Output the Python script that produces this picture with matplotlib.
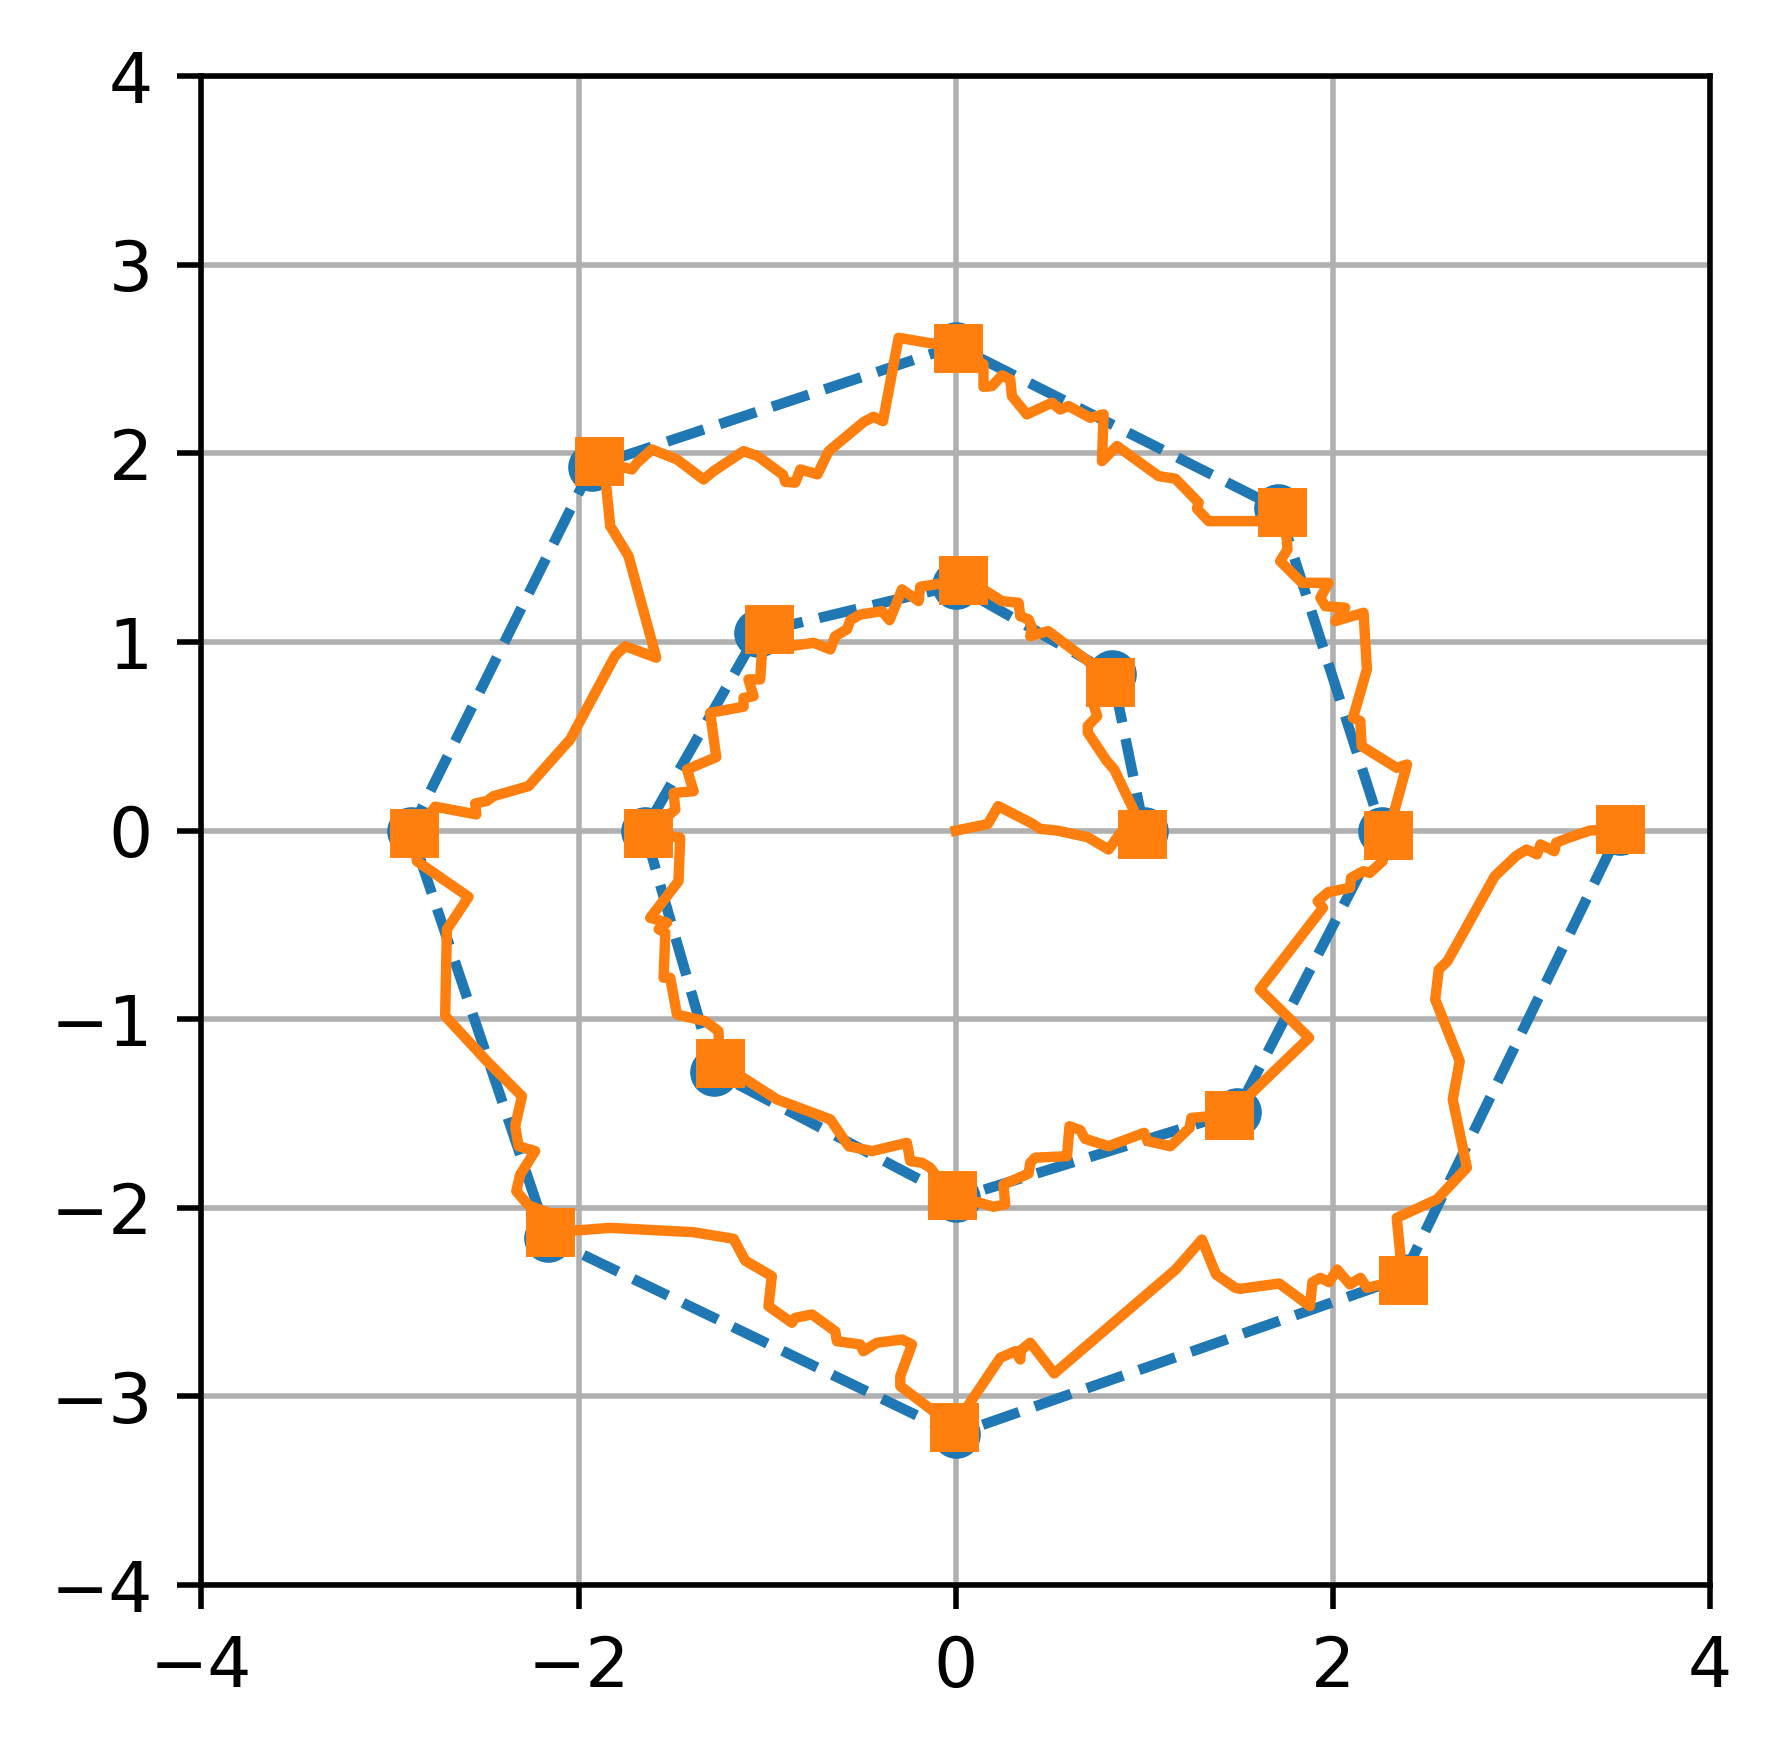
import numpy as np
import matplotlib
matplotlib.use("Agg")
import matplotlib.pyplot as plt


# ----------------------------------------------------------
# data
# ----------------------------------------------------------
# ideal spiral points (blue, dashed)
spiral_x = [1.0, 0.83, 0.0, -1.05, -1.65, -1.28, 0.0, 1.49, 2.26,
            1.71, 0.0, -1.93, -2.89, -2.16, 0.0, 2.37, 3.52]
spiral_y = [0.0, 0.83, 1.30, 1.05, 0.0, -1.28, -1.95, -1.49, 0.0,
            1.71, 2.57, 1.93, 0.0, -2.16, -3.20, -2.37, 0.0]

# measured waypoints (orange squares)
mark_x = [0.99, 0.82, 0.04, -0.99, -1.63, -1.25, -0.02, 1.45, 2.29,
          1.73, 0.01, -1.89, -2.87, -2.15, -0.01, 2.37, 3.52]
mark_y = [-0.02, 0.79, 1.33, 1.07, -0.01, -1.23, -1.93, -1.505, -0.025,
          1.69, 2.56, 1.96, -0.01, -2.13, -3.16, -2.38, 0.01]

# noisy trajectory (orange line)
walk_x = [0.0, 0.17, 0.225, 0.41, 0.445, 0.54, 0.70, 0.81, 0.875, 0.99,
          0.95, 0.84, 0.80, 0.70, 0.70, 0.75, 0.73, 0.82,
          0.70, 0.49, 0.395, 0.404, 0.386, 0.342, 0.333, 0.245, 0.147, 0.04,
          -0.188, -0.197, -0.285, -0.351, -0.391, -0.506, -0.559, -0.577,
          -0.639, -0.665, -0.754, -0.877, -0.99,
          -1.028, -1.037, -1.099, -1.072, -1.125, -1.125, -1.302, -1.27,
          -1.425, -1.39, -1.496, -1.487, -1.63,
          -1.461, -1.47, -1.62, -1.531, -1.575, -1.54, -1.549, -1.514,
          -1.478, -1.328, -1.258, -1.25,
          -0.948, -0.665, -0.568, -0.444, -0.259, -0.241, -0.179, -0.135,
          -0.109, -0.02,
          0.2, 0.262, 0.253, 0.386, 0.395, 0.421, 0.59, 0.603, 0.66, 0.686,
          0.81, 0.999, 1.017, 1.138, 1.24, 1.249, 1.45,
          1.873, 1.612, 1.947, 1.919, 1.975, 2.09, 2.096, 2.161, 2.195,
          2.263, 2.29,
          2.393, 2.338, 2.152, 2.145, 2.106, 2.18, 2.162, 2.012, 2.065,
          1.959, 1.933, 1.977, 1.836, 1.72, 1.759, 1.752, 1.73,
          1.597, 1.341, 1.279, 1.288, 1.164, 1.075, 0.855, 0.775, 0.784,
          0.713, 0.598, 0.553, 0.51, 0.377, 0.298, 0.289, 0.245, 0.192,
          0.147, 0.147, 0.01,
          -0.303, -0.386, -0.436, -0.489, -0.674, -0.733, -0.824, -0.851,
          -0.904, -0.916, -1.051, -1.125, -1.284, -1.337, -1.478, -1.611,
          -1.69, -1.717, -1.89,
          -1.853, -1.832, -1.735, -1.588, -1.752, -1.805, -2.044, -2.265,
          -2.451, -2.486, -2.548, -2.542, -2.76, -2.87,
          -2.857, -2.583, -2.698, -2.707, -2.486, -2.3, -2.336, -2.318,
          -2.23, -2.309, -2.33, -2.265, -2.159, -2.15,
          -1.832, -1.39, -1.178, -1.116, -0.975, -0.993, -0.869, -0.851,
          -0.762, -0.639, -0.63, -0.506, -0.49, -0.418, -0.285, -0.232,
          -0.294, -0.294, -0.01,
          0.236, 0.315, 0.342, 0.345, 0.395, 0.522, 1.166, 1.305, 1.38,
          1.482, 1.51, 1.715, 1.878, 1.891, 1.934, 1.979, 2.022, 2.09,
          2.146, 2.18, 2.37,
          2.338, 2.551, 2.71, 2.635, 2.672, 2.542, 2.561, 2.607, 2.858,
          2.97, 3.026, 3.082, 3.1, 3.174, 3.183, 3.249, 3.36, 3.52]
walk_y = [0.0, 0.035, 0.13, 0.035, 0.01, 0.0, -0.035, -0.10, -0.01, -0.02,
          0.095, 0.325, 0.37, 0.52, 0.555, 0.607, 0.67, 0.79,
          0.90, 1.058, 1.031, 1.076, 1.12, 1.137, 1.208, 1.217, 1.279, 1.33,
          1.293, 1.217, 1.279, 1.116, 1.164, 1.146, 1.116, 1.067,
          1.031, 0.961, 0.996, 0.978, 1.07,
          0.934, 0.802, 0.802, 0.713, 0.704, 0.657, 0.625, 0.39,
          0.324, 0.209, 0.2, 0.112, -0.01,
          -0.038, -0.268, -0.462, -0.488, -0.523, -0.541, -0.78, -0.78,
          -0.975, -1.01, -1.063, -1.23,
          -1.425, -1.531, -1.673, -1.699, -1.655, -1.752, -1.761, -1.787,
          -1.823, -1.93,
          -1.994, -1.982, -1.876, -1.818, -1.761, -1.734, -1.726, -1.567,
          -1.588, -1.634, -1.673, -1.602, -1.646, -1.673, -1.576, -1.523,
          -1.505,
          -1.098, -0.842, -0.409, -0.374, -0.326, -0.303, -0.25, -0.215,
          -0.224, -0.162, -0.025,
          0.351, 0.333, 0.448, 0.581, 0.598, 0.855, 1.155, 1.111, 1.182,
          1.19, 1.235, 1.314, 1.314, 1.429, 1.491, 1.579, 1.69,
          1.641, 1.641, 1.707, 1.739, 1.866, 1.88, 2.039, 1.959, 2.207,
          2.189, 2.251, 2.233, 2.269, 2.207, 2.304, 2.392, 2.414, 2.357,
          2.353, 2.472, 2.56,
          2.613, 2.171, 2.194, 2.166, 2.012, 1.889, 1.915, 1.845,
          1.849, 1.887, 1.986, 2.012, 1.906, 1.862, 1.968, 2.021,
          1.95, 1.915, 1.96,
          1.827, 1.615, 1.456, 0.917, 0.978, 0.929, 0.484, 0.236,
          0.183, 0.157, 0.144, 0.086, 0.127, -0.01,
          -0.162, -0.351, -0.524, -0.983, -1.222, -1.408, -1.567, -1.673,
          -1.699, -1.823, -1.911, -1.987, -2.026, -2.13,
          -2.106, -2.129, -2.164, -2.28, -2.362, -2.521, -2.609, -2.583,
          -2.565, -2.654, -2.707, -2.724, -2.76, -2.715, -2.698, -2.724,
          -2.892, -2.945, -3.16,
          -2.795, -2.76, -2.804, -2.755, -2.715, -2.878, -2.327, -2.168,
          -2.353, -2.424, -2.429, -2.401, -2.521, -2.394, -2.371, -2.394,
          -2.327, -2.406, -2.371, -2.424, -2.38,
          -2.053, -1.955, -1.787, -1.425, -1.222, -0.895, -0.736, -0.692,
          -0.241, -0.135, -0.1, -0.126, -0.073, -0.109, -0.064, -0.038,
          0.0, 0.01]

x_ticks = [-4, -2, 0, 2, 4]
y_ticks = [-4, -3, -2, -1, 0, 1, 2, 3, 4]


# ----------------------------------------------------------
# plot
# ----------------------------------------------------------
W, H, DPI = 1783, 1752, 500
fig = plt.figure(figsize=(W / DPI, H / DPI), dpi=DPI)
ax = fig.add_axes([201.3 / W, 1 - 1585.1 / H, 1508.9 / W, 1508.9 / H])

ax.plot(spiral_x, spiral_y, "o--", color="C0", lw=1.5, ms=6)
ax.plot(walk_x, walk_y, "-", color="C1", lw=1.5)
ax.plot(mark_x, mark_y, "s", color="C1", ms=6, ls="none")

ax.set_xlim(-4, 4)
ax.set_ylim(-4, 4)
ax.set_xticks(x_ticks)
ax.set_yticks(y_ticks)
ax.grid(True)
ax.set_axisbelow(True)

fig.savefig("out.png", dpi=DPI)
